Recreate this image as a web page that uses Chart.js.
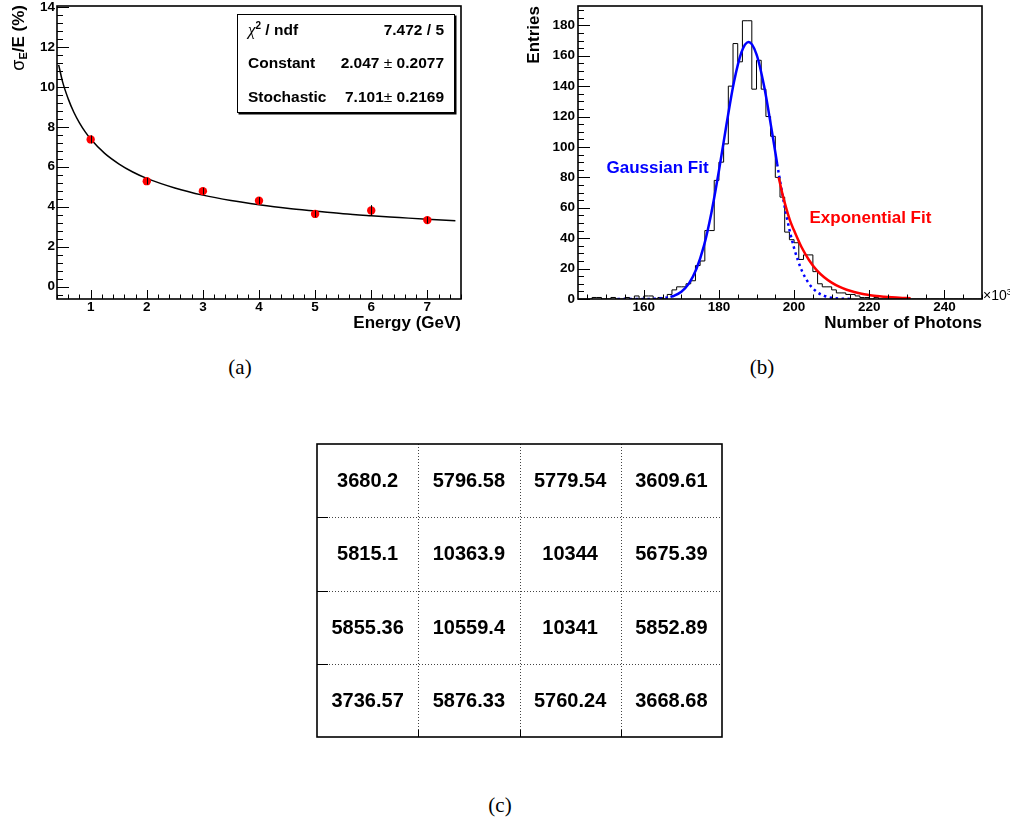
<!DOCTYPE html>
<html>
<head>
<meta charset="utf-8">
<title>Energy resolution, photon spectrum and cell map</title>
<script src="https://cdn.jsdelivr.net/npm/chart.js@4.4.1/dist/chart.umd.min.js"></script>
<style>
  html, body { margin: 0; padding: 0; background: #fff; }
  body { position: relative; width: 1010px; height: 820px; overflow: hidden;
         font-family: "Liberation Sans", Arial, Helvetica, sans-serif; color: #000; }
  .pane { position: absolute; }
  .pane canvas { display: block; }
  .caption { position: absolute; width: 60px; text-align: center; line-height: 24px;
             font-family: "Liberation Serif", "Times New Roman", serif; font-size: 21px; }
  #ytitleA { position: absolute; left: 10px; top: 76px; width: 71px; height: 17px; line-height: 17px;
             text-align: right; white-space: nowrap; font-weight: bold; font-size: 17px;
             transform-origin: 0 0; transform: rotate(-90deg); }
  #ytitleA .sig { font-weight: normal; font-size: 18px; }
  #ytitleA sub { font-size: 11px; vertical-align: -3px; line-height: 0; }
  #stats { position: absolute; left: 237px; top: 14px; width: 216px; height: 97px;
           border: 1px solid #000; box-shadow: 1.5px 1.5px 0 #000; background: #fff;
           font-weight: bold; font-size: 15.5px; }
  #stats .row { position: absolute; left: 10px; right: 10px; height: 20px; line-height: 20px; white-space: nowrap; }
  #stats .k { position: absolute; left: 0; }
  #stats .v { position: absolute; right: 0; }
  #stats .pm { font-weight: normal; }
  #stats .chi { font-family: "Liberation Serif", "Times New Roman", serif; font-style: italic;
                font-weight: normal; font-size: 17px; }
  #stats sup { font-size: 10px; line-height: 0; vertical-align: 6px; }
  #xexp { position: absolute; left: 983px; top: 287px; font-size: 14px; line-height: 16px; white-space: nowrap; }
  #xexp sup { font-size: 9px; line-height: 0; vertical-align: 5px; }
</style>
</head>
<body>

<div class="pane" style="left:0;top:0;"><canvas id="chartA" width="470" height="345"></canvas></div>
<div class="pane" style="left:520px;top:0;"><canvas id="chartB" width="490" height="345"></canvas></div>
<div class="pane" style="left:300px;top:430px;"><canvas id="chartC" width="440" height="320"></canvas></div>

<div id="ytitleA"><span class="sig">σ</span><sub>E</sub>/E (%)</div>
<div id="stats">
  <div class="row" style="top:5px;"><span class="k"><span class="chi">χ</span><sup>2</sup> / ndf</span><span class="v">7.472 / 5</span></div>
  <div class="row" style="top:38px;"><span class="k">Constant</span><span class="v">2.047 <span class="pm">±</span> 0.2077</span></div>
  <div class="row" style="top:72px;"><span class="k">Stochastic</span><span class="v">7.101<span class="pm">±</span> 0.2169</span></div>
</div>
<div id="xexp">×10<sup>3</sup></div>

<div class="caption" style="left:210px;top:355px;">(a)</div>
<div class="caption" style="left:732px;top:355px;">(b)</div>
<div class="caption" style="left:470px;top:793px;">(c)</div>

<script>
// (a) energy resolution vs beam energy
var energy = [1, 2, 3, 4, 5, 6, 7];
var resolution = [7.37, 5.28, 4.78, 4.30, 3.64, 3.81, 3.33];
var resolutionErr = [0.20, 0.17, 0.17, 0.18, 0.17, 0.27, 0.17];
// fitted curve
var fitEnergy = [0.43, 0.5, 0.6, 0.7, 0.8, 0.9, 1.0, 1.25, 1.5, 1.75, 2.0, 2.5, 3.0, 3.5, 4.0, 4.5, 5.0, 5.5, 6.0, 6.5, 7.0, 7.5];
var fitResolution = [11.1, 10.25, 9.4, 8.73, 8.2, 7.76, 7.39, 6.67, 6.15, 5.74, 5.42, 4.94, 4.58, 4.31, 4.10, 3.92, 3.78, 3.65, 3.55, 3.46, 3.37, 3.30];
var xTicksA = [1, 2, 3, 4, 5, 6, 7];
var yTicksA = [0, 2, 4, 6, 8, 10, 12, 14];

// (b) photon count histogram (x in units of 10^3)
var binStart = 142.5, binWidth = 1.25;
var counts = [
  0, 0, 0, 1, 1, 0, 0, 1, 0, 0,
  1, 0, 2, 0, 2, 2, 0, 1, 0, 3,
  6, 8, 8, 10, 12, 22, 25, 45, 45, 78,
  90, 102, 140, 168, 156, 183, 183, 138, 157, 138,
  120, 107, 80, 67, 44, 39, 37, 26, 29, 29,
  18, 10, 8, 8, 6, 4, 4, 3, 3, 2,
  1, 1, 0, 1, 0, 0, 0, 0, 0, 0,
  0, 0, 0, 0, 0, 0, 0, 0, 0, 0,
  0, 0, 0, 0, 0, 0
];
var gaussLeftX = [153, 155, 157, 159, 161, 163, 165, 167.1];
var gaussLeftY = [0, 0, 0.01, 0.02, 0.05, 0.17, 0.5, 1.4];
var gaussX = [167.1, 168, 170, 172, 174, 176, 178, 180, 182, 184, 186, 187.9, 190, 192, 194, 195.5];
var gaussY = [1.4, 2.1, 4.8, 10.1, 19.7, 34.9, 56.8, 84.3, 114.6, 142.7, 162.3, 169, 160.9, 140.2, 111.7, 88.8];
var gaussRightX = [195.5, 196, 198, 200, 202, 204, 206, 208, 210, 212, 215];
var gaussRightY = [88.8, 81.4, 54.3, 33.5, 19, 10, 4.8, 2.1, 0.8, 0.3, 0.05];
var expX = [195.9, 197, 198, 199, 200, 202, 204, 206, 208, 210, 212, 214, 216, 218, 220, 222, 224, 226, 228, 231];
var expY = [80, 68, 59, 51, 45, 34, 25.5, 19, 14.3, 10.8, 8.1, 6.1, 4.6, 3.4, 2.6, 1.9, 1.45, 1.1, 0.8, 0.5];
var xTicksB = [160, 180, 200, 220, 240];
var yTicksB = [0, 20, 40, 60, 80, 100, 120, 140, 160, 180];

// (c) 4x4 cell map
var cellRow1 = [3680.2, 5796.58, 5779.54, 3609.61];
var cellRow2 = [5815.1, 10363.9, 10344, 5675.39];
var cellRow3 = [5855.36, 10559.4, 10341, 5852.89];
var cellRow4 = [3736.57, 5876.33, 5760.24, 3668.68];

var SANS = "'Liberation Sans', Arial, Helvetica, sans-serif";
Chart.defaults.font.family = SANS;
Chart.defaults.color = '#000';
Chart.defaults.animation = false;
Chart.defaults.events = [];
Chart.defaults.plugins.legend.display = false;
Chart.defaults.plugins.tooltip.enabled = false;

function pts(xs, ys) {
  return xs.map(function (x, i) { return {x: x, y: ys[i]}; });
}
function bold(size) { return {family: SANS, weight: 'bold', size: size}; }
function fixedTicks(values) {
  return function (scale) { scale.ticks = values.map(function (v) { return {value: v}; }); };
}
function fixWidth(w) {
  return function (s) { s.width = w; s.paddingTop = 0; s.paddingBottom = 0; };
}
function fixHeight(h) {
  return function (s) { s.height = h; s.paddingLeft = 0; s.paddingRight = 0; };
}

// ROOT style: ticks drawn inside the frame, major + minor
function drawAxisTicks(ctx, area, scale, t, horizontal) {
  var i0 = Math.ceil(scale.min / t.minorStep - 1e-6);
  var i1 = Math.floor(scale.max / t.minorStep + 1e-6);
  ctx.beginPath();
  for (var i = i0; i <= i1; i++) {
    var v = i * t.minorStep;
    var isMajor = t.major.some(function (m) { return Math.abs(m - v) < 1e-6; });
    var len = isMajor ? t.majorLen : t.minorLen;
    var p = Math.round(scale.getPixelForValue(v)) + 0.5;
    if (horizontal) { ctx.moveTo(p, area.bottom); ctx.lineTo(p, area.bottom - len); }
    else { ctx.moveTo(area.left, p); ctx.lineTo(area.left + len, p); }
  }
  ctx.stroke();
}

var rootFrame = {
  id: 'rootFrame',
  afterDatasetsDraw: function (chart, args, o) {
    var ctx = chart.ctx, sx = chart.scales.x, sy = chart.scales.y;
    ctx.save();
    // error bars
    if (o.errors) {
      var meta = chart.getDatasetMeta(0);
      var ds = chart.data.datasets[0].data;
      ctx.strokeStyle = '#000';
      ctx.lineWidth = 1;
      ctx.beginPath();
      meta.data.forEach(function (pt, i) {
        var x = Math.round(pt.x) + 0.5;
        ctx.moveTo(x, sy.getPixelForValue(ds[i].y + o.errors[i]));
        ctx.lineTo(x, sy.getPixelForValue(ds[i].y - o.errors[i]));
      });
      ctx.stroke();
    }
    // text anchored in data coordinates
    (o.labels || []).forEach(function (l) {
      ctx.fillStyle = l.color;
      ctx.font = 'bold 17px ' + SANS;
      ctx.textAlign = 'left';
      ctx.textBaseline = 'middle';
      ctx.fillText(l.text, sx.getPixelForValue(l.x), sy.getPixelForValue(l.y));
    });
    ctx.restore();
  },
  afterDraw: function (chart, args, o) {
    var ctx = chart.ctx, a = chart.chartArea;
    ctx.save();
    ctx.strokeStyle = '#000';
    ctx.lineWidth = 1;
    if (o.xTicks) drawAxisTicks(ctx, a, chart.scales.x, o.xTicks, true);
    if (o.yTicks) drawAxisTicks(ctx, a, chart.scales.y, o.yTicks, false);
    ctx.lineWidth = 1.6;
    ctx.strokeRect(a.left, a.top, a.width, a.height);
    ctx.restore();
  }
};

var cellTable = {
  id: 'cellTable',
  afterDatasetsDraw: function (chart, args, o) {
    var ctx = chart.ctx, a = chart.chartArea, sx = chart.scales.x, sy = chart.scales.y;
    var i, p;
    ctx.save();
    // dotted cell borders
    ctx.strokeStyle = '#444';
    ctx.lineWidth = 1;
    ctx.setLineDash([1, 2]);
    ctx.beginPath();
    for (i = 1; i < o.cols; i++) {
      p = Math.round(sx.getPixelForValue(i)) + 0.5;
      ctx.moveTo(p, a.top); ctx.lineTo(p, a.bottom);
    }
    for (i = 1; i < o.rows; i++) {
      p = Math.round(sy.getPixelForValue(i)) + 0.5;
      ctx.moveTo(a.left, p); ctx.lineTo(a.right, p);
    }
    ctx.stroke();
    ctx.setLineDash([]);
    // short solid ticks on left and bottom edge
    ctx.strokeStyle = '#000';
    ctx.beginPath();
    for (i = 1; i < o.rows; i++) {
      p = Math.round(sy.getPixelForValue(i)) + 0.5;
      ctx.moveTo(a.left, p); ctx.lineTo(a.left + 11, p);
    }
    for (i = 1; i < o.cols; i++) {
      p = Math.round(sx.getPixelForValue(i)) + 0.5;
      ctx.moveTo(p, a.bottom); ctx.lineTo(p, a.bottom - 7);
    }
    ctx.stroke();
    // cell values
    var meta = chart.getDatasetMeta(0);
    var ds = chart.data.datasets[0].data;
    ctx.fillStyle = '#000';
    ctx.font = 'bold 20px ' + SANS;
    ctx.textAlign = 'center';
    ctx.textBaseline = 'middle';
    meta.data.forEach(function (pt, k) { ctx.fillText(String(ds[k].v), pt.x, pt.y + 1); });
    ctx.lineWidth = 1.6;
    ctx.strokeRect(a.left, a.top, a.width, a.height);
    ctx.restore();
  }
};

// ---------- (a) ----------
new Chart(document.getElementById('chartA'), {
  type: 'line',
  data: {
    datasets: [
      { data: pts(energy, resolution), showLine: false, pointRadius: 4.2, pointBorderWidth: 0,
        pointBackgroundColor: '#ff0000', order: 1 },
      { data: pts(fitEnergy, fitResolution), borderColor: '#000', borderWidth: 1.5, pointRadius: 0,
        cubicInterpolationMode: 'monotone', fill: false, order: 2 }
    ]
  },
  options: {
    responsive: false, devicePixelRatio: 1,
    layout: { padding: { left: 0, top: 6, right: 9, bottom: 0 } },
    scales: {
      x: {
        type: 'linear', min: 0.4, max: 7.6,
        afterBuildTicks: fixedTicks(xTicksA), afterFit: fixHeight(46),
        grid: { display: false, drawTicks: false }, border: { display: false },
        ticks: { padding: 0, font: bold(13.5), maxRotation: 0, autoSkip: false,
                 callback: function (v) { return String(v); } },
        title: { display: true, text: 'Energy (GeV)', align: 'end', font: bold(17), padding: { top: 0, bottom: 11 } }
      },
      y: {
        type: 'linear', min: -0.62, max: 14.05,
        afterBuildTicks: fixedTicks(yTicksA), afterFit: fixWidth(57),
        grid: { display: false, drawTicks: false }, border: { display: false },
        ticks: { padding: 2, font: bold(13.5), autoSkip: false,
                 callback: function (v) { return String(v); } }
      }
    },
    plugins: {
      rootFrame: {
        errors: resolutionErr,
        xTicks: { major: xTicksA, minorStep: 0.2, majorLen: 9, minorLen: 4.5 },
        yTicks: { major: yTicksA, minorStep: 0.4, majorLen: 12, minorLen: 6 }
      }
    }
  },
  plugins: [rootFrame]
});

// ---------- (b) ----------
var histPts = counts.map(function (c, k) { return {x: binStart + k * binWidth, y: c}; });
histPts.push({x: binStart + counts.length * binWidth, y: counts[counts.length - 1]});

new Chart(document.getElementById('chartB'), {
  type: 'line',
  data: {
    datasets: [
      { data: histPts, stepped: 'before', borderColor: '#000', borderWidth: 1, pointRadius: 0, fill: false, order: 5 },
      { data: pts(gaussLeftX, gaussLeftY), borderColor: '#0000ff', borderWidth: 2.5, borderDash: [2.5, 3.5],
        pointRadius: 0, cubicInterpolationMode: 'monotone', fill: false, order: 4 },
      { data: pts(gaussRightX, gaussRightY), borderColor: '#0000ff', borderWidth: 2.5, borderDash: [2.5, 3.5],
        pointRadius: 0, cubicInterpolationMode: 'monotone', fill: false, order: 3 },
      { data: pts(gaussX, gaussY), borderColor: '#0000ff', borderWidth: 2.5,
        pointRadius: 0, cubicInterpolationMode: 'monotone', fill: false, order: 2 },
      { data: pts(expX, expY), borderColor: '#ff0000', borderWidth: 2.5,
        pointRadius: 0, cubicInterpolationMode: 'monotone', fill: false, order: 1 }
    ]
  },
  options: {
    responsive: false, devicePixelRatio: 1,
    layout: { padding: { left: 0, top: 6, right: 28, bottom: 0 } },
    scales: {
      x: {
        type: 'linear', min: 142.5, max: 250,
        afterBuildTicks: fixedTicks(xTicksB), afterFit: fixHeight(46),
        grid: { display: false, drawTicks: false }, border: { display: false },
        ticks: { padding: 0, font: bold(13.5), maxRotation: 0, autoSkip: false,
                 callback: function (v) { return String(v); } },
        title: { display: true, text: 'Number of Photons', align: 'end', font: bold(17), padding: { top: 0, bottom: 11 } }
      },
      y: {
        type: 'linear', min: 0, max: 192.7,
        afterBuildTicks: fixedTicks(yTicksB), afterFit: fixWidth(58),
        grid: { display: false, drawTicks: false }, border: { display: false },
        ticks: { padding: 3, font: bold(13.5), autoSkip: false,
                 callback: function (v) { return String(v); } },
        title: { display: true, text: 'Entries', align: 'end', font: bold(17), padding: { top: 4, bottom: 0 } }
      }
    },
    plugins: {
      rootFrame: {
        labels: [
          { x: 150.1, y: 86, text: 'Gaussian Fit', color: '#0000ff' },
          { x: 204.1, y: 53, text: 'Exponential Fit', color: '#ff0000' }
        ],
        xTicks: { major: xTicksB, minorStep: 5, majorLen: 9, minorLen: 4.5 },
        yTicks: { major: yTicksB, minorStep: 5, majorLen: 12, minorLen: 6 }
      }
    }
  },
  plugins: [rootFrame]
});

// ---------- (c) ----------
var cellRows = [cellRow1, cellRow2, cellRow3, cellRow4];
var cells = [];
cellRows.forEach(function (row, r) {
  row.forEach(function (v, c) { cells.push({x: c + 0.5, y: r + 0.5, v: v}); });
});

new Chart(document.getElementById('chartC'), {
  type: 'scatter',
  data: { datasets: [{ data: cells, pointRadius: 0 }] },
  options: {
    responsive: false, devicePixelRatio: 1,
    layout: { padding: { left: 17, top: 14, right: 18, bottom: 13 } },
    scales: {
      x: { type: 'linear', min: 0, max: cellRow1.length, display: false },
      y: { type: 'linear', min: 0, max: cellRows.length, reverse: true, display: false }
    },
    plugins: { cellTable: { cols: cellRow1.length, rows: cellRows.length } }
  },
  plugins: [cellTable]
});
</script>
</body>
</html>
